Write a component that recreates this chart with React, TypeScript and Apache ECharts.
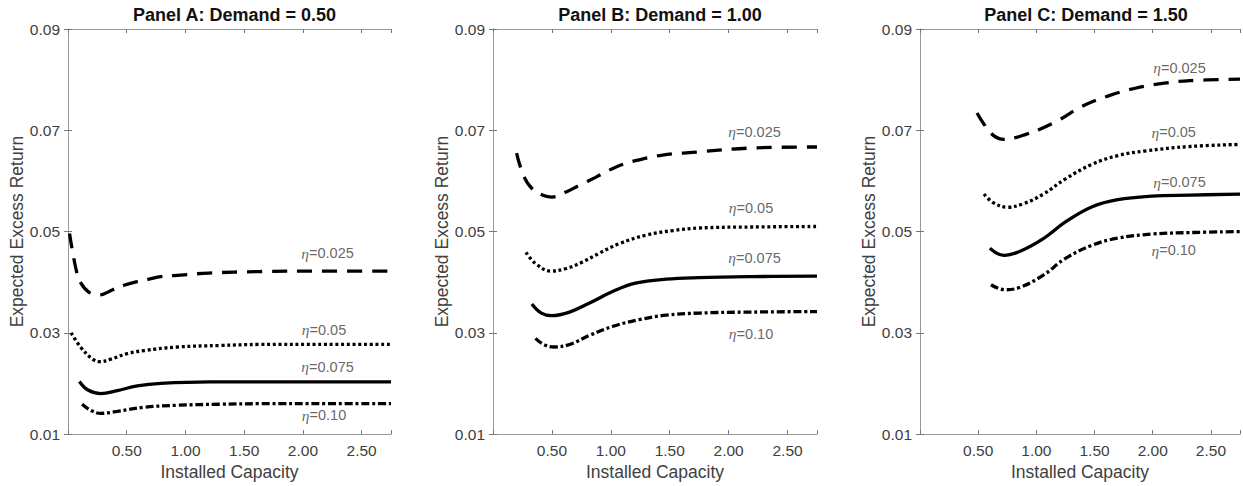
import React, { useEffect, useRef } from 'react';
import * as echarts from 'echarts';

const panelTitles = ['Panel A: Demand = 0.50', 'Panel B: Demand = 1.00', 'Panel C: Demand = 1.50'];
const etaValues = ['0.025', '0.05', '0.075', '0.10'];
const xAxisName = 'Installed Capacity';
const yAxisName = 'Expected Excess Return';

// Panel A: Demand = 0.50
const panelA_eta025 = [[0.013, 0.0496], [0.07, 0.0424], [0.11, 0.0398], [0.18, 0.038], [0.27, 0.0375], [0.38, 0.0385], [0.49, 0.0395], [0.59, 0.0401], [0.69, 0.0406], [0.79, 0.0411], [0.9, 0.0413], [1.2, 0.0418], [1.63, 0.0421], [2.2, 0.0422], [2.75, 0.0422]];
const panelA_eta05 = [[0.027, 0.03], [0.11, 0.0271], [0.21, 0.0248], [0.27, 0.0243], [0.365, 0.0248], [0.506, 0.0259], [0.65, 0.0265], [0.93, 0.0272], [1.3, 0.0275], [1.63, 0.0277], [2.2, 0.0277], [2.75, 0.0277]];
const panelA_eta075 = [[0.097, 0.0204], [0.17, 0.0187], [0.28, 0.018], [0.42, 0.0186], [0.59, 0.0195], [0.79, 0.02], [1.21, 0.0203], [1.7, 0.0203], [2.2, 0.0203], [2.75, 0.0203]];
const panelA_eta10 = [[0.12, 0.0159], [0.2, 0.0146], [0.28, 0.0141], [0.42, 0.0145], [0.65, 0.0153], [0.93, 0.0157], [1.3, 0.0159], [1.63, 0.016], [2.2, 0.016], [2.75, 0.016]];

// Panel B: Demand = 1.00
const panelB_eta025 = [[0.2, 0.0655], [0.26, 0.061], [0.33, 0.0585], [0.43, 0.0571], [0.5, 0.0568], [0.62, 0.0578], [0.73, 0.0591], [0.87, 0.0607], [1.04, 0.0627], [1.21, 0.064], [1.44, 0.0651], [1.73, 0.0657], [2.2, 0.0665], [2.75, 0.0667]];
const panelB_eta05 = [[0.28, 0.0459], [0.36, 0.0437], [0.49, 0.0422], [0.62, 0.0427], [0.76, 0.044], [0.9, 0.0457], [1.07, 0.0476], [1.3, 0.0493], [1.53, 0.0502], [1.75, 0.0507], [2.2, 0.0509], [2.75, 0.051]];
const panelB_eta075 = [[0.33, 0.0357], [0.41, 0.0339], [0.5, 0.0334], [0.65, 0.0341], [0.82, 0.0359], [1.02, 0.0382], [1.21, 0.0398], [1.47, 0.0406], [1.75, 0.0409], [2.2, 0.0411], [2.75, 0.0412]];
const panelB_eta10 = [[0.36, 0.0289], [0.43, 0.0277], [0.52, 0.0272], [0.65, 0.0277], [0.82, 0.0295], [1.02, 0.0313], [1.24, 0.0326], [1.47, 0.0335], [1.75, 0.0339], [2.2, 0.0341], [2.75, 0.0342]];

// Panel C: Demand = 1.50
const panelC_eta025 = [[0.49, 0.0734], [0.55, 0.0712], [0.63, 0.069], [0.72, 0.0682], [0.83, 0.0686], [0.91, 0.0692], [1.03, 0.0702], [1.2, 0.0721], [1.39, 0.0747], [1.62, 0.0768], [1.85, 0.0783], [2.1, 0.0793], [2.32, 0.0798], [2.75, 0.0801]];
const panelC_eta05 = [[0.55, 0.0574], [0.63, 0.0557], [0.75, 0.0548], [0.89, 0.0555], [1.06, 0.0574], [1.25, 0.0604], [1.48, 0.0633], [1.7, 0.065], [1.93, 0.0659], [2.32, 0.0668], [2.75, 0.0672]];
const panelC_eta075 = [[0.6, 0.0467], [0.72, 0.0453], [0.86, 0.0461], [1.06, 0.0486], [1.25, 0.0519], [1.48, 0.0549], [1.7, 0.0563], [1.99, 0.057], [2.32, 0.0572], [2.75, 0.0574]];
const panelC_eta10 = [[0.61, 0.0395], [0.73, 0.0385], [0.86, 0.039], [1.06, 0.0414], [1.25, 0.0447], [1.48, 0.0473], [1.7, 0.0487], [1.99, 0.0495], [2.32, 0.0498], [2.75, 0.05]];

// Label anchor positions (data coordinates)
const labelsA = [[2.21, 0.0457], [2.18, 0.0306], [2.21, 0.0233], [2.18, 0.0137]];
const labelsB = [[2.22, 0.0697], [2.19, 0.0547], [2.22, 0.0448], [2.19, 0.0298]];
const labelsC = [[2.23, 0.0823], [2.18, 0.0696], [2.23, 0.0597], [2.18, 0.0463]];

const panelSeries = [
  [panelA_eta025, panelA_eta05, panelA_eta075, panelA_eta10],
  [panelB_eta025, panelB_eta05, panelB_eta075, panelB_eta10],
  [panelC_eta025, panelC_eta05, panelC_eta075, panelC_eta10],
];
const panelLabels = [labelsA, labelsB, labelsC];

const FONT = "'Liberation Sans', Arial, Helvetica, sans-serif";
const lineDashes: any[] = [[15, 10], [3, 2.7], 'solid', [8, 2.8, 3, 2.8]];
const grids = [
  { left: 68, top: 29, width: 323, height: 408 },
  { left: 493, top: 29, width: 324, height: 408 },
  { left: 920, top: 29, width: 322, height: 408 },
];

export default function App() {
  const ref = useRef<HTMLDivElement>(null);
  useEffect(() => {
    if (!ref.current) return;
    const chart = echarts.init(ref.current, undefined, { renderer: 'svg' });
    const boxColor = '#999999';
    const xAxes: any[] = [];
    const yAxes: any[] = [];
    const series: any[] = [];
    const titles: any[] = [];
    grids.forEach((g, p) => {
      titles.push({
        text: panelTitles[p],
        left: g.left + g.width / 2,
        textAlign: 'center',
        top: 1,
        textStyle: { fontFamily: FONT, fontSize: 18, fontWeight: 'bold', color: '#111' },
      });
      const common = {
        gridIndex: p,
        type: 'value',
        axisLine: { show: true, lineStyle: { color: boxColor, width: 1 } },
        axisTick: { show: true, inside: true, length: 4, lineStyle: { color: '#777' } },
        splitLine: { show: false },
      };
      xAxes.push({
        ...common,
        position: 'bottom',
        min: 0,
        max: 2.75,
        interval: 0.5,
        name: xAxisName,
        nameLocation: 'middle',
        nameGap: 27,
        nameTextStyle: { fontFamily: FONT, fontSize: 17.5, color: '#404040' },
        axisLabel: {
          margin: 8,
          fontFamily: FONT,
          fontSize: 15.5,
          color: '#404040',
          formatter: (v: number) => (v < 0.1 || v > 2.6 ? '' : v.toFixed(2)),
        },
      });
      xAxes.push({
        ...common,
        position: 'top',
        min: 0,
        max: 2.75,
        interval: 0.5,
        axisLabel: { show: false },
      });
      yAxes.push({
        ...common,
        position: 'left',
        min: 0.01,
        max: 0.09,
        interval: 0.02,
        name: yAxisName,
        nameLocation: 'middle',
        nameGap: 41,
        nameTextStyle: { fontFamily: FONT, fontSize: 17.5, color: '#404040' },
        axisLabel: {
          margin: 8,
          fontFamily: FONT,
          fontSize: 15.5,
          color: '#404040',
          formatter: (v: number) => v.toFixed(2),
        },
      });
      yAxes.push({
        ...common,
        position: 'right',
        min: 0.01,
        max: 0.09,
        interval: 0.02,
        axisLabel: { show: false },
      });
      panelSeries[p].forEach((data, i) => {
        series.push({
          type: 'line',
          xAxisIndex: 2 * p,
          yAxisIndex: 2 * p,
          data,
          smooth: 0.4,
          showSymbol: false,
          symbol: 'none',
          clip: true,
          lineStyle: { color: '#000', width: 3.3, type: lineDashes[i], cap: 'butt' },
          z: 3,
        });
      });
      series.push({
        type: 'scatter',
        xAxisIndex: 2 * p,
        yAxisIndex: 2 * p,
        symbolSize: 0,
        silent: true,
        data: panelLabels[p].map((pt, i) => ({ value: pt, name: etaValues[i] })),
        label: {
          show: true,
          position: 'inside',
          formatter: (d: any) => '{e|η}=' + d.name,
          fontFamily: FONT,
          fontSize: 14.5,
          color: '#404040',
          rich: {
            e: { fontFamily: "'Liberation Serif', 'DejaVu Serif', serif", fontStyle: 'italic', fontSize: 15.5, color: '#404040' },
          },
        },
        z: 4,
      });
    });
    chart.setOption({
      animation: false,
      backgroundColor: '#ffffff',
      title: titles,
      grid: grids.map((g) => ({ ...g, containLabel: false, show: false })),
      xAxis: xAxes,
      yAxis: yAxes,
      series,
    });
    return () => chart.dispose();
  }, []);
  return (
    <div
      ref={ref}
      style={{ position: 'absolute', left: 0, top: 0, width: 1243, height: 486 }}
    />
  );
}
